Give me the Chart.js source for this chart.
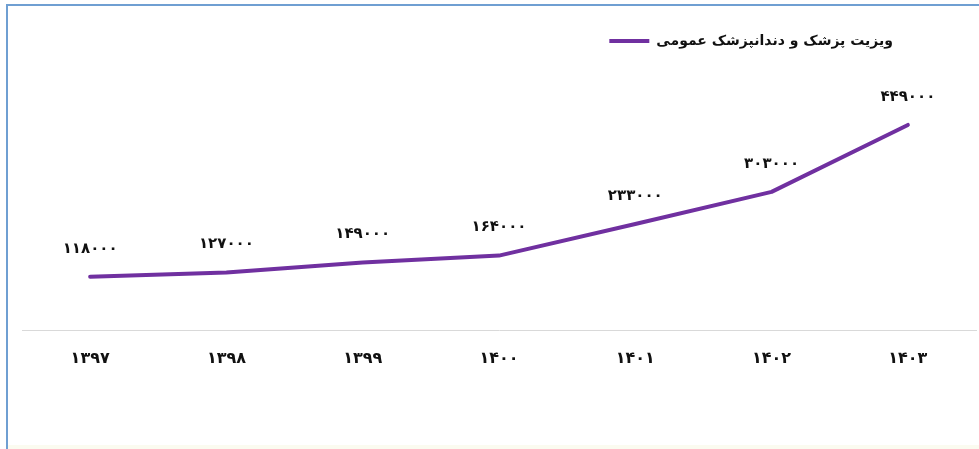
<!DOCTYPE html>
<html lang="fa">
<head>
<meta charset="utf-8">
<title>ویزیت پزشک و دندانپزشک عمومی</title>
<script src="https://cdn.jsdelivr.net/npm/chart.js@4/dist/chart.umd.min.js"></script>
<style>
  html, body { margin: 0; padding: 0; background: #ffffff; }
  #wrap { position: relative; width: 979px; height: 449px; overflow: hidden; }
  #chart { position: absolute; left: 0; top: 0; }
  #frame {
    position: absolute; left: 6px; top: 4px; right: 0; bottom: 0;
    border-top: 2px solid #6f9fd2; border-left: 2px solid #6f9fd2;
    pointer-events: none;
  }
  #strip { position: absolute; left: 8px; right: 0; bottom: 0; height: 4px; background: #fbfbf0; }
</style>
</head>
<body>
<div id="wrap">
  <canvas id="chart" width="979" height="449"></canvas>
  <div id="strip"></div>
  <div id="frame"></div>
</div>
<script>
// Solar Hijri years on the category axis
const years = ['۱۳۹۷', '۱۳۹۸', '۱۳۹۹', '۱۴۰۰', '۱۴۰۱', '۱۴۰۲', '۱۴۰۳'];
// Number of general physician and dentist visits per year
const visits = [118000, 127000, 149000, 164000, 233000, 303000, 449000];
const seriesName = 'ویزیت پزشک و دندانپزشک عمومی';

const PURPLE = '#7030a0';
const FONT = "'DejaVu Sans', 'Noto Sans', sans-serif";

const faDigits = '۰۱۲۳۴۵۶۷۸۹';
const toPersian = v => String(v).replace(/\d/g, d => faDigits[d]);

// Writes each value above its point
const valueLabels = {
  id: 'valueLabels',
  afterDatasetsDraw(chart) {
    const ctx = chart.ctx;
    const meta = chart.getDatasetMeta(0);
    const data = chart.data.datasets[0].data;
    ctx.save();
    ctx.font = 'bold 15px ' + FONT;
    ctx.fillStyle = '#111111';
    ctx.textAlign = 'center';
    ctx.textBaseline = 'middle';
    meta.data.forEach((pt, i) => {
      ctx.fillText(toPersian(data[i]), pt.x, pt.y - 28);
    });
    ctx.restore();
  }
};

// Pulls the legend in from the right edge
const legendInset = {
  id: 'legendInset',
  afterLayout(chart) {
    if (chart.legend) chart.legend.right -= 73;
  }
};

new Chart(document.getElementById('chart'), {
  type: 'line',
  data: {
    labels: years,
    datasets: [{
      label: seriesName,
      data: visits,
      borderColor: PURPLE,
      backgroundColor: PURPLE,
      borderWidth: 4,
      borderCapStyle: 'round',
      borderJoinStyle: 'round',
      tension: 0,
      pointRadius: 0,
      pointHoverRadius: 0,
      fill: false
    }]
  },
  options: {
    responsive: false,
    animation: false,
    devicePixelRatio: 1,
    layout: { padding: { left: 22, right: 3, top: 24, bottom: 63 } },
    plugins: {
      legend: {
        position: 'top',
        align: 'end',
        labels: {
          usePointStyle: true,
          pointStyle: 'line',
          pointStyleWidth: 40,
          boxHeight: 4,
          padding: 10,
          color: '#111111',
          font: { family: FONT, size: 14, weight: 'bold' }
        }
      },
      tooltip: { enabled: false }
    },
    scales: {
      x: {
        offset: true,
        grid: { display: false, drawTicks: false },
        border: { display: true, color: '#d9d9d9', width: 1 },
        ticks: {
          padding: 18,
          color: '#111111',
          font: { family: FONT, size: 16, weight: 'bold' }
        }
      },
      y: {
        display: false,
        min: 0,
        max: 595000
      }
    }
  },
  plugins: [valueLabels, legendInset]
});
</script>
</body>
</html>
